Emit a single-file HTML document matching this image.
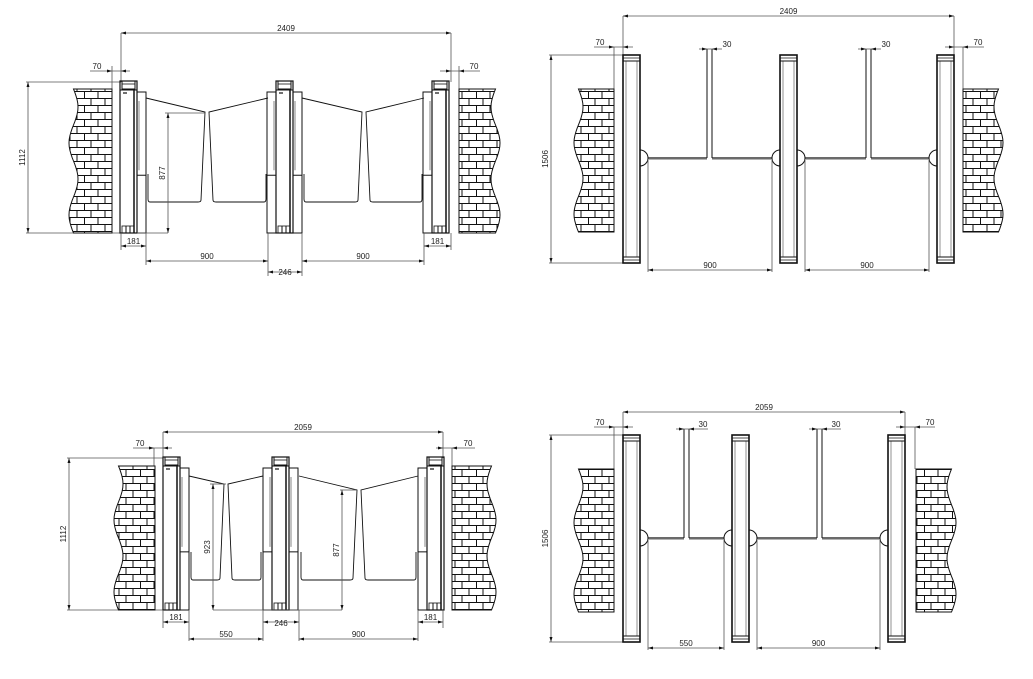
<!DOCTYPE html>
<html><head><meta charset="utf-8"><style>
html,body{margin:0;padding:0;background:#fff;width:1033px;height:679px;overflow:hidden}
svg{display:block}
text{font-family:"Liberation Sans",sans-serif;font-size:8px;fill:#222}
</style></head><body>
<svg id="s" width="1033" height="679" viewBox="0 0 1033 679" xmlns="http://www.w3.org/2000/svg">
<defs>
<pattern id="brick" width="28" height="14" patternUnits="userSpaceOnUse">
<rect width="28" height="14" fill="#fff"/>
<path d="M0 0.5H28M0 7.5H28M7 0.5V7.5M21 0.5V7.5M0.5 7.5V14M14 7.5V14" stroke="#111" stroke-width="1" fill="none"/>
</pattern>
</defs>
<g id="g"></g>
</svg>
<script>
var o='';
function L(x1,y1,x2,y2,c,w){o+='<line x1="'+x1+'" y1="'+y1+'" x2="'+x2+'" y2="'+y2+'" stroke="'+(c||'#111')+'" stroke-width="'+(w||1)+'"/>';}
function R(x,y,w,h,c,sw,f){o+='<rect x="'+x+'" y="'+y+'" width="'+w+'" height="'+h+'" fill="'+(f||'none')+'" stroke="'+(c||'#111')+'" stroke-width="'+(sw||1)+'"/>';}
function P(d,c,w,f){o+='<path d="'+d+'" fill="'+(f||'none')+'" stroke="'+(c||'#111')+'" stroke-width="'+(w||1)+'"/>';}
function T(x,y,t,rot){o+='<text x="'+x+'" y="'+y+'" text-anchor="middle"'+(rot?' transform="rotate(-90 '+x+' '+y+')"':'')+'>'+t+'</text>';}
function arr(x,y,dir){
 var d;
 if(dir=='l')d='M'+x+' '+y+'l5 -1.5v3z';if(dir=='r')d='M'+x+' '+y+'l-5 -1.5v3z';
 if(dir=='u')d='M'+x+' '+y+'l-1.5 5h3z';if(dir=='d')d='M'+x+' '+y+'l-1.5 -5h3z';
 o+='<path d="'+d+'" fill="#111"/>';
}
function dimH(x1,x2,y,t,ty){L(x1,y,x2,y,'#555',0.8);arr(x1,y,'l');arr(x2,y,'r');T((x1+x2)/2,ty||y-2,t);}
function dimV(x,y1,y2,t){L(x,y1,x,y2,'#555',0.8);arr(x,y1,'u');arr(x,y2,'d');T(x-3,(y1+y2)/2,t,1);}
function wall(x,y,w,h,waveLeft){
 var d='',n=40,amp=4.5;
 if(waveLeft){
  d='M'+(x+w)+' '+y+'L'+(x+w)+' '+(y+h);
  for(var i=n;i>=0;i--){var yy=y+h*i/n;var xx=x+amp+amp*Math.sin(i/n*Math.PI*4);d+='L'+xx.toFixed(1)+' '+yy.toFixed(1);}
  d+='Z';
 }else{
  d='M'+x+' '+y+'L'+x+' '+(y+h);
  for(var i=n;i>=0;i--){var yy=y+h*i/n;var xx=x+w-amp-amp*Math.sin(i/n*Math.PI*4);d+='L'+xx.toFixed(1)+' '+yy.toFixed(1);}
  d+='Z';
 }
 o+='<g transform="translate('+x+' '+y+')"><path transform="translate('+(-x)+' '+(-y)+')" d="'+d+'" fill="url(#brick)" stroke="#111" stroke-width="1"/></g>';
}
function spost(x,y0,y1,hl,hr){
 R(x,y0,17,y1-y0,'#111',1.2);
 R(x+2,y0,13,8,'#111',1);L(x+2,y0+3,x+15,y0+3,'#111',0.8);
 L(x,y0+9,x+17,y0+9);L(x+14,y0+9,x+14,y1,'#111',1.5);L(x+3,y0+12,x+7,y0+12,'#111',1.2);
 R(x+2,y1-7,12,7,'#111',0.8);L(x+6,y1-7,x+6,y1);L(x+10,y1-7,x+10,y1);
 var mid=y0+(y1-y0)*0.62;
 if(hr){R(x+17,y0+11,9,y1-y0-11,'#111',1);L(x+19,y0+20,x+19,mid-5,'#666',0.8);L(x+17,mid,x+26,mid);}
 if(hl){R(x-9,y0+11,9,y1-y0-11,'#111',1);L(x-2,y0+20,x-2,mid-5,'#666',0.8);L(x-9,mid,x,mid);}
}
function wing(xa,ya,xb,yb,yBot,side){
 var d;
 if(side=='L'){d='M'+xa+' '+(ya)+'L'+xb+' '+yb+'L'+(xb-4)+' '+(yBot-2)+'Q'+(xb-4)+' '+yBot+' '+(xb-7)+' '+yBot+'L'+(xa+4)+' '+yBot+'Q'+(xa+2)+' '+yBot+' '+(xa+2)+' '+(yBot-3)+'L'+(xa+2)+' '+(yBot-28);}
 else{d='M'+xb+' '+yb+'L'+xa+' '+ya+'L'+(xa+4)+' '+(yBot-2)+'Q'+(xa+4)+' '+yBot+' '+(xa+7)+' '+yBot+'L'+(xb-4)+' '+yBot+'Q'+(xb-2)+' '+yBot+' '+(xb-2)+' '+(yBot-3)+'L'+(xb-2)+' '+(yBot-28);}
 P(d,'#111',0.9);
}
function tpost(x,y0,y1){
 R(x,y0,17,y1-y0,'#111',1.6);R(x+3,y0+6,11,y1-y0-12,'#777',0.8);
 L(x,y0+3,x+17,y0+3,'#111',0.8);L(x,y1-3,x+17,y1-3,'#111',0.8);L(x,y0+6,x+17,y0+6);L(x,y1-6,x+17,y1-6);
}
function semi(x,y,dir){var r=8;P('M'+x+' '+(y-r)+'A'+r+' '+r+' 0 0 '+(dir>0?1:0)+' '+x+' '+(y+r),'#111',1);}
function gate(x1,x2,y){L(x1,y,x2,y,'#111',1.2);L(x1,y+1.5,x2,y+1.5,'#999',0.8);}

/* ===== TL ===== */
dimH(121,451,33,'2409',31);
L(121,33,121,82,'#555',0.8);L(451,33,451,82,'#555',0.8);
L(90,71,130,71,'#555',0.8);arr(112,71,'r');arr(121,71,'l');T(97,69,'70');
L(112,66,112,89,'#555',0.8);
L(440,71,480,71,'#555',0.8);arr(451,71,'r');arr(459,71,'l');T(474,69,'70');L(459,66,459,89,'#555',0.8);
L(26,82,121,82,'#555',0.8);L(26,233,121,233,'#555',0.8);dimV(28,82,233,'1112');
wall(69,89,43,144,1);wall(459,89,41,144,0);
spost(120,81,233,0,1);spost(276,81,233,1,1);spost(432,81,233,1,0);
wing(146,98,205,112,202,'L');wing(209,112,268,98,202,'R');
wing(302,98,362,112,202,'L');wing(366,112,424,98,202,'R');
dimV(168,113,233,'877');L(165,113,205,113,'#555',0.8);L(137,233,168,233,'#555',0.8);
L(121,233,121,250,'#555',0.8);L(146,233,146,265,'#555',0.8);dimH(121,146,246,'181',244);
dimH(146,268,261,'900',259);L(268,233,268,276,'#555',0.8);L(302,233,302,276,'#555',0.8);
dimH(268,302,272,'246',275);dimH(302,424,261,'900',259);L(424,233,424,265,'#555',0.8);L(451,233,451,250,'#555',0.8);
dimH(424,451,246,'181',244);

/* ===== TR ===== */
dimH(623,954,16,'2409',14);L(623,16,623,55,'#555',0.8);L(954,16,954,55,'#555',0.8);
L(594,47,633,47,'#555',0.8);arr(614,47,'r');arr(623,47,'l');T(600,45,'70');L(614,47,614,89,'#555',0.8);
L(945,47,984,47,'#555',0.8);arr(954,47,'r');arr(963,47,'l');T(978,45,'70');L(963,47,963,89,'#555',0.8);
L(549,55,623,55,'#555',0.8);L(549,263,623,263,'#555',0.8);dimV(551,55,263,'1506');
wall(574,89,40,143,1);wall(963,89,40,143,0);
tpost(623,55,263);tpost(780,55,263);tpost(937,55,263);
semi(640,158,1);semi(780,158,-1);semi(797,158,1);semi(937,158,-1);
gate(648,707,158);gate(712,772,158);gate(805,866,158);gate(871,929,158);
L(707,49,707,158,'#111',1);L(712,49,712,158,'#111',1);L(866,49,866,158,'#111',1);L(871,49,871,158,'#111',1);
L(699,49,722,49,'#555',0.8);arr(707,49,'r');arr(712,49,'l');T(727,47,'30');
L(858,49,881,49,'#555',0.8);arr(866,49,'r');arr(871,49,'l');T(886,47,'30');
L(648,160,648,272,'#555',0.8);L(772,160,772,272,'#555',0.8);dimH(648,772,270,'900',268);
L(805,160,805,272,'#555',0.8);L(929,160,929,272,'#555',0.8);dimH(805,929,270,'900',268);

/* ===== BL ===== */
dimH(163,443,432,'2059',430);L(163,432,163,458,'#555',0.8);L(443,432,443,458,'#555',0.8);
L(133,448,172,448,'#555',0.8);arr(154,448,'r');arr(163,448,'l');T(140,446,'70');L(154,448,154,466,'#555',0.8);
L(436,448,475,448,'#555',0.8);arr(443,448,'r');arr(452,448,'l');T(468,446,'70');L(452,448,452,466,'#555',0.8);
L(67,458,163,458,'#555',0.8);L(67,610,163,610,'#555',0.8);dimV(69,458,610,'1112');
wall(114,466,41,144,1);wall(452,466,44,144,0);
spost(163,457,610,0,1);spost(272,457,610,1,1);spost(427,457,610,1,0);
wing(189,476,224,484,580,'L');wing(228,484,263,476,580,'R');
wing(299,476,357,490,580,'L');wing(361,490,418,476,580,'R');
dimV(213,484,610,'923');L(210,484,226,484,'#555',0.8);L(213,610,342,610,'#555',0.8);
dimV(342,490,610,'877');L(340,490,356,490,'#555',0.8);
L(163,610,163,628,'#555',0.8);L(189,610,189,641,'#555',0.8);dimH(163,189,622,'181',620);
dimH(189,263,639,'550',637);L(263,610,263,641,'#555',0.8);L(299,610,299,641,'#555',0.8);
dimH(263,299,622,'246',626);dimH(299,418,639,'900',637);L(418,610,418,641,'#555',0.8);L(443,610,443,628,'#555',0.8);
dimH(418,443,622,'181',620);

/* ===== BR ===== */
dimH(623,905,412,'2059',410);L(623,412,623,435,'#555',0.8);L(905,412,905,435,'#555',0.8);
L(594,427,633,427,'#555',0.8);arr(614,427,'r');arr(623,427,'l');T(600,425,'70');L(614,427,614,469,'#555',0.8);
L(896,427,935,427,'#555',0.8);arr(905,427,'r');arr(915,427,'l');T(930,425,'70');L(915,427,915,469,'#555',0.8);
L(549,435,623,435,'#555',0.8);L(549,642,623,642,'#555',0.8);dimV(551,435,642,'1506');
wall(574,469,40,143,1);wall(916,469,40,143,0);
tpost(623,435,642);tpost(732,435,642);tpost(888,435,642);
semi(640,538,1);semi(732,538,-1);semi(749,538,1);semi(888,538,-1);
gate(648,684,538);gate(689,724,538);gate(757,817,538);gate(822,880,538);
L(684,429,684,538,'#111',1);L(689,429,689,538,'#111',1);L(817,429,817,538,'#111',1);L(822,429,822,538,'#111',1);
L(676,429,708,429,'#555',0.8);arr(684,429,'r');arr(689,429,'l');T(703,427,'30');
L(809,429,841,429,'#555',0.8);arr(817,429,'r');arr(822,429,'l');T(836,427,'30');
L(648,540,648,650,'#555',0.8);L(724,540,724,650,'#555',0.8);dimH(648,724,648,'550',646);
L(757,540,757,650,'#555',0.8);L(880,540,880,650,'#555',0.8);dimH(757,880,648,'900',646);

document.getElementById('g').innerHTML=o;
</script>
</body></html>
